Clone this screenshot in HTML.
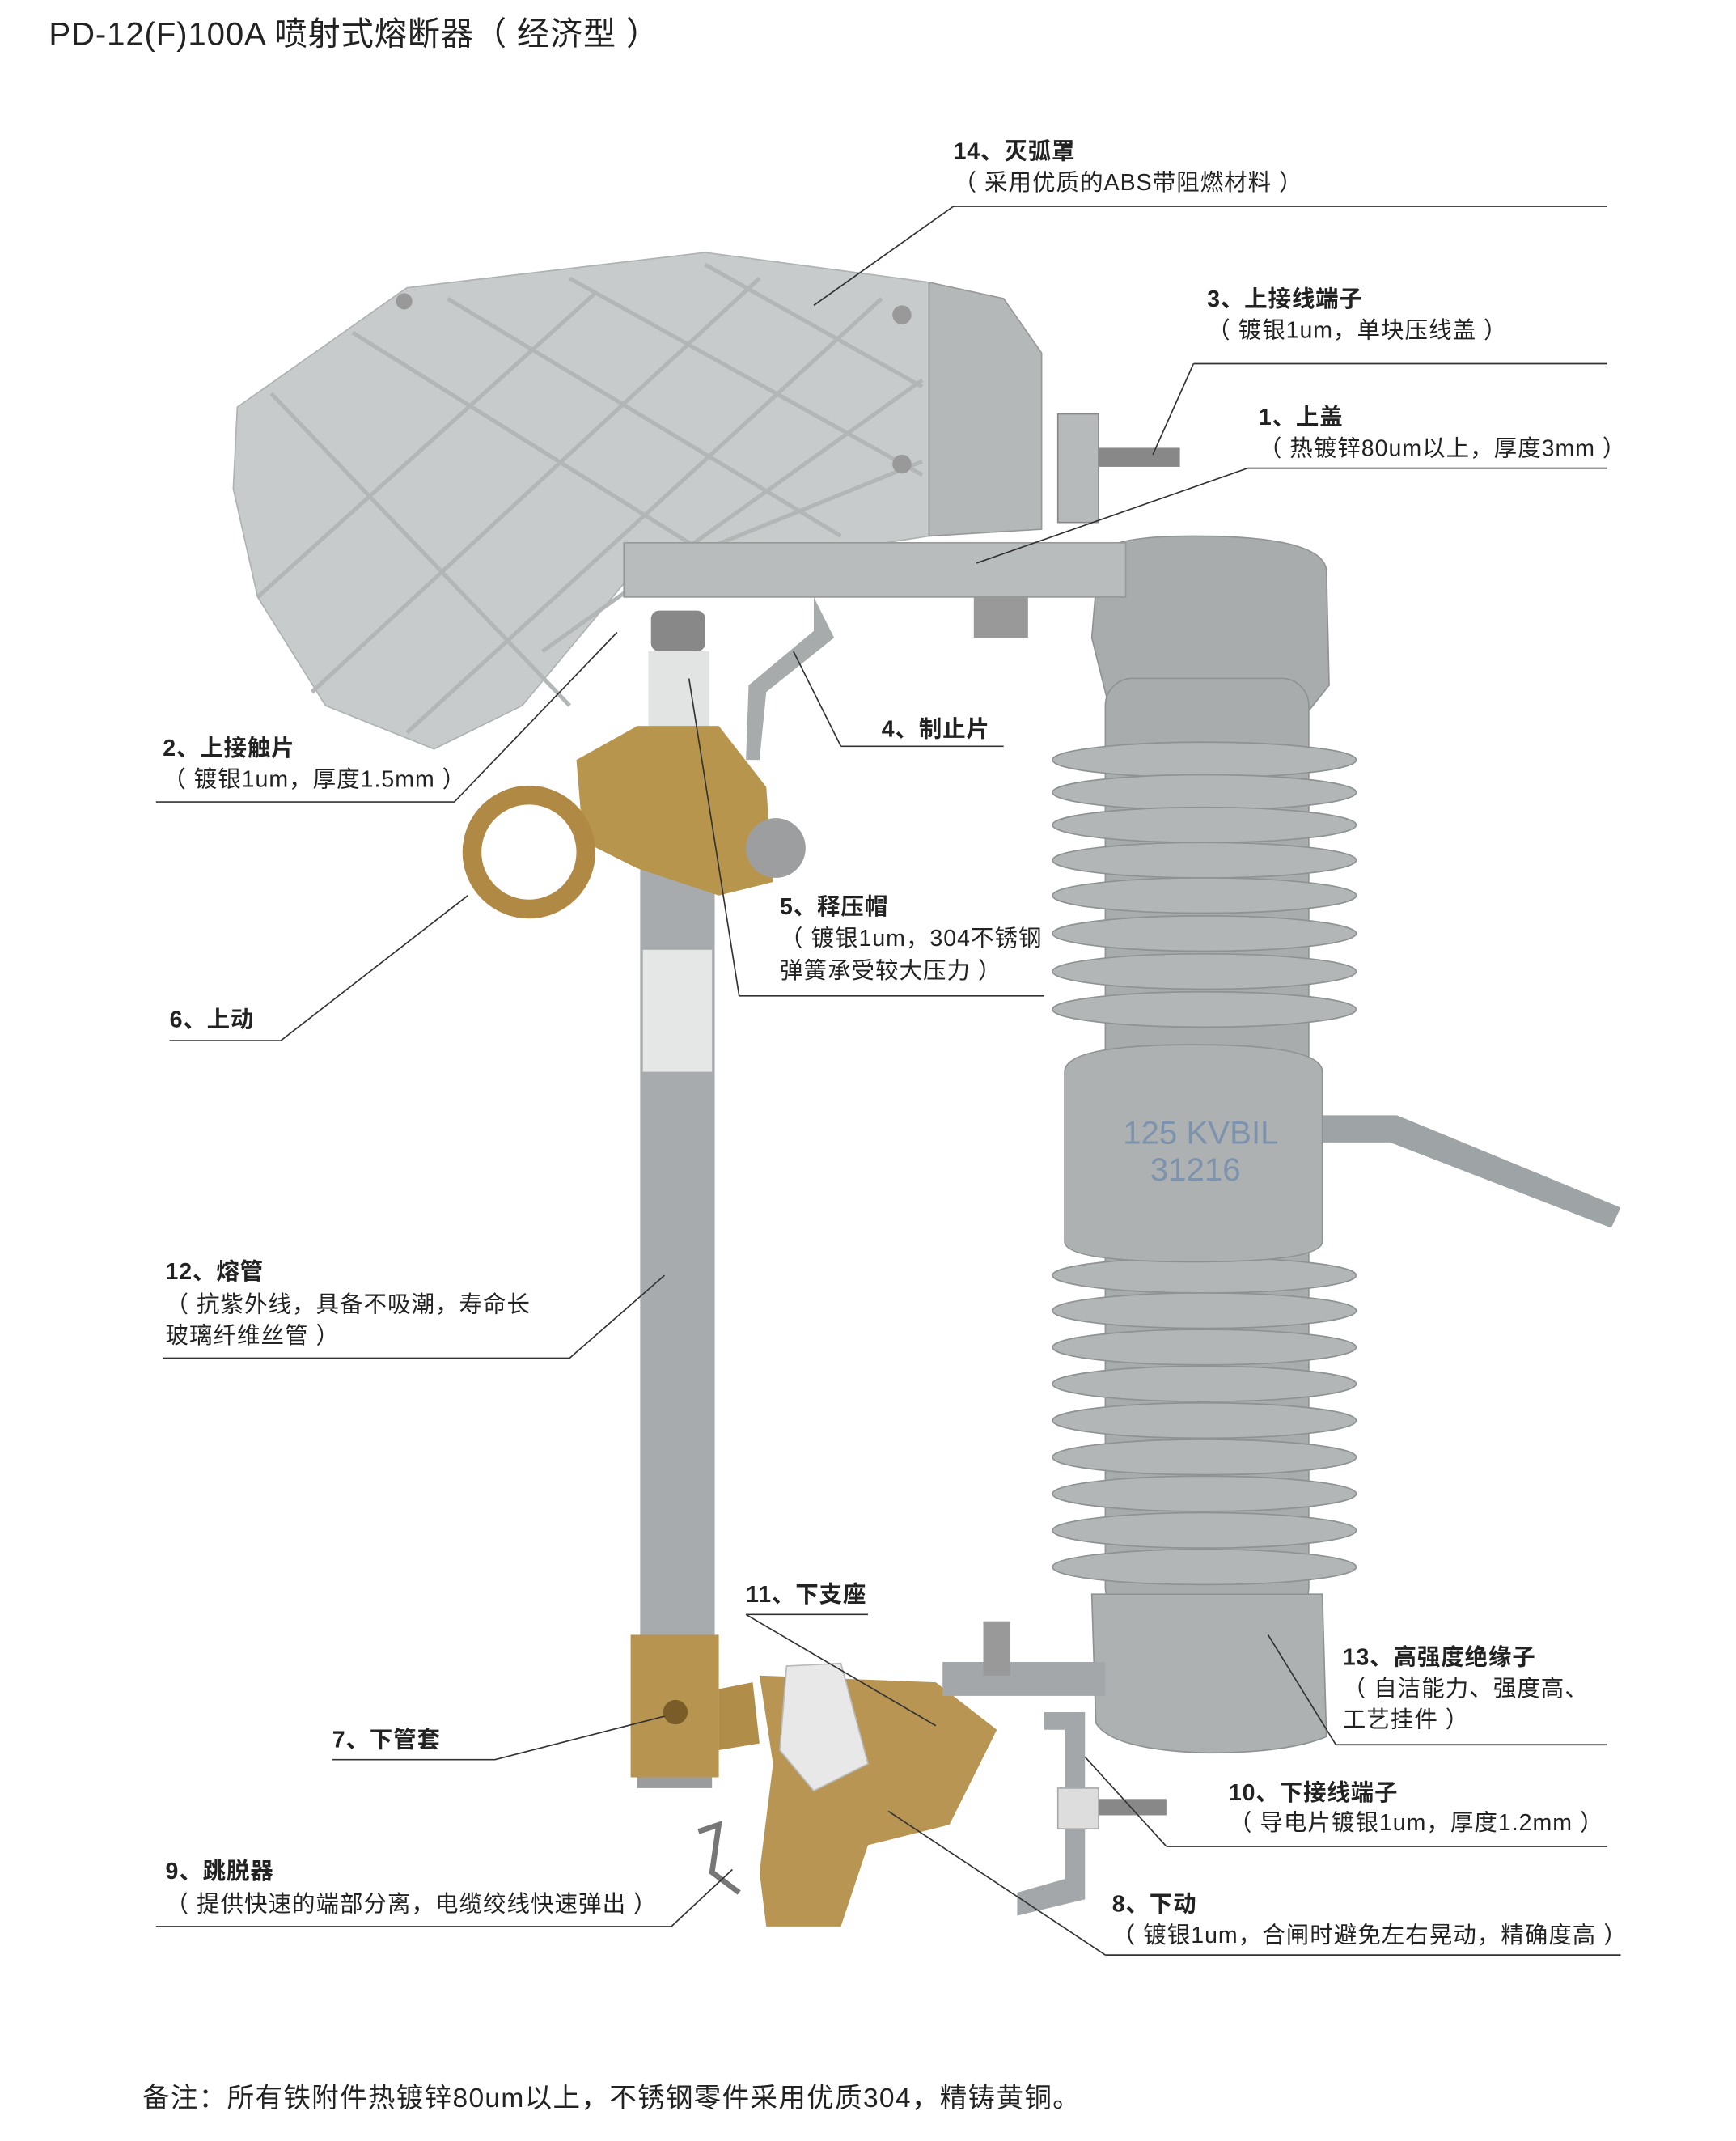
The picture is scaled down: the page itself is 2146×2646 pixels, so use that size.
<!DOCTYPE html>
<html><head><meta charset="utf-8"><style>
html,body{margin:0;padding:0;background:#fff}
svg{display:block}
text{font-family:"Liberation Sans","Noto Sans CJK SC",sans-serif;fill:#222}
.b{font-weight:bold;font-size:17px;letter-spacing:0.5px}
.n{font-size:17px;letter-spacing:0.6px}
.ln{stroke:#333;stroke-width:1;fill:none}
</style></head><body>
<svg width="2146" height="2646" viewBox="0 0 1280 1578" xmlns="http://www.w3.org/2000/svg">
<rect width="1280" height="1578" fill="#fff"/>
<text x="36" y="33" style="font-size:24px;letter-spacing:0.5px">PD-12(F)100A 喷射式熔断器（ 经济型 ）</text>

<!-- arm rod -->
<path d="M975 822 L1030 822 L1195 890 L1188 905 L1025 842 L975 842Z" fill="#9ea3a6"/>
<!-- insulator -->
<g fill="#a9acad" stroke="#8f9394" stroke-width="1">
<path d="M810 410 Q815 395 880 395 Q975 395 978 420 L980 505 L960 530 L820 530 L805 470Z"/>
<rect x="815" y="500" width="150" height="690" rx="20"/>
</g>
<g fill="#b3b6b7" stroke="#8e9293">
<ellipse cx="888" cy="560" rx="112" ry="13"/><ellipse cx="888" cy="584" rx="112" ry="13"/>
<ellipse cx="888" cy="608" rx="112" ry="13"/><ellipse cx="888" cy="634" rx="112" ry="13"/>
<ellipse cx="888" cy="660" rx="112" ry="13"/><ellipse cx="888" cy="688" rx="112" ry="13"/>
<ellipse cx="888" cy="716" rx="112" ry="13"/><ellipse cx="888" cy="744" rx="112" ry="13"/>
<ellipse cx="888" cy="940" rx="112" ry="13"/><ellipse cx="888" cy="966" rx="112" ry="13"/>
<ellipse cx="888" cy="993" rx="112" ry="13"/><ellipse cx="888" cy="1020" rx="112" ry="13"/>
<ellipse cx="888" cy="1047" rx="112" ry="13"/><ellipse cx="888" cy="1074" rx="112" ry="13"/>
<ellipse cx="888" cy="1101" rx="112" ry="13"/><ellipse cx="888" cy="1128" rx="112" ry="13"/>
<ellipse cx="888" cy="1155" rx="112" ry="13"/>
</g>
<path d="M785 790 Q785 770 880 770 Q975 770 975 790 L975 915 Q975 930 880 930 Q785 930 785 915Z" fill="#aeb1b2" stroke="#8e9293"/>
<path d="M805 1175 L975 1175 L978 1280 Q950 1292 890 1292 Q820 1290 808 1270Z" fill="#aeb1b2" stroke="#8e9293"/>
<text x="828" y="843" style="font-size:24px;fill:#7d92ad">125 KVBIL</text>
<text x="848" y="870" style="font-size:24px;fill:#7d92ad">31216</text>

<!-- arc chute -->
<path d="M175 300 L300 212 L520 186 L685 208 L685 395 L460 430 L385 520 L320 552 L240 520 L190 440 L172 360Z" fill="#c8cbcc" stroke="#aeb2b3"/>
<g stroke="#b2b6b7" stroke-width="3" fill="none">
<path d="M200 290 L420 520 M260 245 L540 420 M330 220 L620 395 M420 205 L680 350 M520 195 L680 285"/>
<path d="M190 440 L440 215 M230 510 L560 205 M300 540 L650 220 M400 480 L680 280 M470 425 L680 340"/>
</g>
<path d="M685 208 L740 220 L768 260 L768 390 L685 395Z" fill="#b5b8b8" stroke="#999"/>
<circle cx="665" cy="232" r="7" fill="#999"/><circle cx="665" cy="342" r="7" fill="#999"/><circle cx="298" cy="222" r="6" fill="#999"/>
<!-- top plate -->
<rect x="460" y="400" width="370" height="40" fill="#b9bcbd" stroke="#999"/>
<rect x="780" y="305" width="30" height="80" fill="#b7babb" stroke="#888"/>
<rect x="810" y="330" width="60" height="14" fill="#888"/>
<path d="M600 440 L615 470 L565 510 L560 560 L550 560 L552 505 L600 465Z" fill="#a7abac"/>
<rect x="718" y="440" width="40" height="30" fill="#999"/>

<!-- fuse tube -->
<rect x="472" y="540" width="55" height="670" fill="#a8abae"/>
<rect x="474" y="700" width="51" height="90" fill="#e5e6e6"/>
<rect x="478" y="480" width="45" height="60" fill="#e2e3e3"/>
<rect x="480" y="450" width="40" height="30" fill="#888" rx="6"/>
<!-- brass top -->
<path d="M425 560 L470 535 L530 535 L565 580 L570 650 L530 660 L470 640 L430 620Z" fill="#b8954c"/>
<circle cx="390" cy="628" r="42" fill="none" stroke="#b08a44" stroke-width="14"/>
<circle cx="572" cy="625" r="22" fill="#9c9ea0"/>
<!-- brass bottom sleeve -->
<rect x="465" y="1205" width="65" height="105" fill="#b79550"/>
<rect x="470" y="1310" width="55" height="8" fill="#9a9c9e"/>
<circle cx="498" cy="1262" r="9" fill="#7a5c28"/>
<path d="M530 1245 L555 1240 L560 1285 L530 1290Z" fill="#b08d48"/>
<!-- lower assembly -->
<path d="M560 1235 L690 1240 L735 1275 L700 1345 L640 1360 L620 1420 L565 1420 L560 1380 L570 1300Z" fill="#b89552"/>
<path d="M580 1228 L620 1226 L640 1300 L600 1320 L575 1290Z" fill="#e8e8e8" stroke="#bbb"/>
<rect x="695" y="1225" width="120" height="25" fill="#a3a7a9"/>
<path d="M770 1262 L800 1262 L800 1400 L750 1412 L750 1395 L785 1385 L785 1275 L770 1275Z" fill="#a3a7a9"/>
<rect x="780" y="1318" width="30" height="30" fill="#ddd" stroke="#aaa"/>
<rect x="810" y="1326" width="50" height="12" fill="#888"/>
<rect x="725" y="1195" width="20" height="40" fill="#999"/>
<path d="M515 1350 L530 1345 L525 1380 L545 1395" stroke="#777" stroke-width="4" fill="none"/>

<!-- leaders -->
<g class="ln">
<path d="M703 152 L1185 152 M703 152 L600 225"/>
<path d="M880 268 L1185 268 M880 268 L850 335"/>
<path d="M920 345 L1185 345 M920 345 L720 415"/>
<path d="M620 550 L740 550 M620 550 L585 480"/>
<path d="M115 591 L335 591 L455 466"/>
<path d="M545 734 L770 734 M545 734 L508 500"/>
<path d="M125 767 L207 767 L345 660"/>
<path d="M120 1001 L420 1001 L490 940"/>
<path d="M550 1190 L640 1190 M550 1190 L690 1272"/>
<path d="M985 1286 L1185 1286 M985 1286 L935 1205"/>
<path d="M245 1297 L365 1297 L490 1265"/>
<path d="M860 1361 L1185 1361 M860 1361 L800 1295"/>
<path d="M115 1420 L495 1420 L540 1378"/>
<path d="M815 1441 L1195 1441 M815 1441 L655 1335"/>
</g>

<text class="b" x="703" y="117">14、灭弧罩</text>
<text class="n" x="703" y="140">（ 采用优质的ABS带阻燃材料 ）</text>
<text class="b" x="890" y="226">3、上接线端子</text>
<text class="n" x="890" y="249">（ 镀银1um，单块压线盖 ）</text>
<text class="b" x="928" y="313">1、上盖</text>
<text class="n" x="928" y="336">（ 热镀锌80um以上，厚度3mm ）</text>
<text class="b" x="650" y="543">4、制止片</text>
<text class="b" x="120" y="557">2、上接触片</text>
<text class="n" x="120" y="580">（ 镀银1um，厚度1.5mm ）</text>
<text class="b" x="575" y="674">5、释压帽</text>
<text class="n" x="575" y="697">（ 镀银1um，304不锈钢</text>
<text class="n" x="575" y="721">弹簧承受较大压力 ）</text>
<text class="b" x="125" y="757">6、上动</text>
<text class="b" x="122" y="943">12、熔管</text>
<text class="n" x="122" y="967">（ 抗紫外线，具备不吸潮，寿命长</text>
<text class="n" x="122" y="990">玻璃纤维丝管 ）</text>
<text class="b" x="550" y="1181">11、下支座</text>
<text class="b" x="990" y="1227">13、高强度绝缘子</text>
<text class="n" x="990" y="1250">（ 自洁能力、强度高、</text>
<text class="n" x="990" y="1273">工艺挂件 ）</text>
<text class="b" x="245" y="1288">7、下管套</text>
<text class="b" x="906" y="1327">10、下接线端子</text>
<text class="n" x="906" y="1349">（ 导电片镀银1um，厚度1.2mm ）</text>
<text class="b" x="122" y="1385">9、跳脱器</text>
<text class="n" x="122" y="1409">（ 提供快速的端部分离，电缆绞线快速弹出 ）</text>
<text class="b" x="820" y="1409">8、下动</text>
<text class="n" x="820" y="1432">（ 镀银1um，合闸时避免左右晃动，精确度高 ）</text>
<text x="105" y="1553" style="font-size:20px;letter-spacing:0.8px">备注：所有铁附件热镀锌80um以上，不锈钢零件采用优质304，精铸黄铜。</text>
</svg>
</body></html>
